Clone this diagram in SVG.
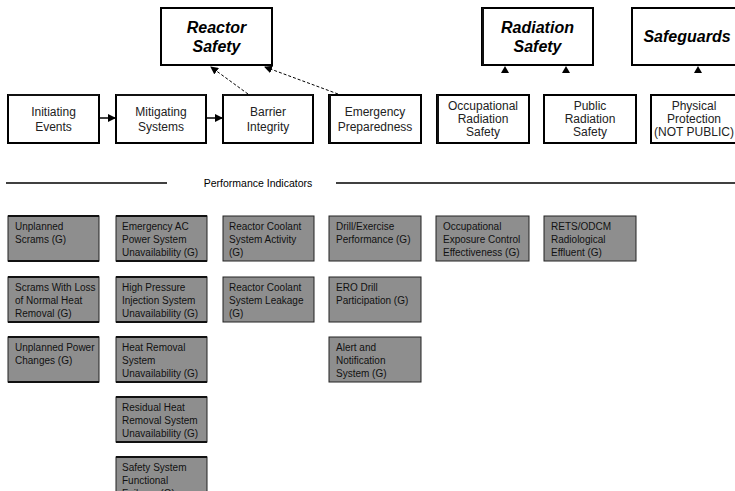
<svg xmlns="http://www.w3.org/2000/svg" width="735" height="491" viewBox="0 0 735 491">
<style>
.top{fill:#fff;stroke:#000;stroke-width:2}
.mid{fill:#fff;stroke:#000;stroke-width:2}
.pi{fill:#8e8e8e;stroke:#222;stroke-width:1}
.bar{stroke:#111;stroke-width:2}
.tt{font-family:"Liberation Sans",Arial,sans-serif;font-size:16px;font-weight:bold;font-style:italic;fill:#000;text-anchor:middle}
.mt{font-family:"Liberation Sans",Arial,sans-serif;font-size:12px;fill:#222;text-anchor:middle}
.pt{font-family:"Liberation Sans",Arial,sans-serif;font-size:10px;fill:#111}
.hd{font-family:"Liberation Sans",Arial,sans-serif;font-size:10.5px;fill:#000;text-anchor:middle}
.dot{stroke:#000;stroke-width:1;stroke-dasharray:3,2;fill:none}
.sol{stroke:#000;stroke-width:1.5;fill:none}
</style>
<defs>
<marker id="ah" markerWidth="8" markerHeight="8" refX="7" refY="4" orient="auto" markerUnits="userSpaceOnUse">
<path d="M0,0 L8,4 L0,8 Z" fill="#000"/>
</marker>
</defs>
<rect width="735" height="491" fill="#fff"/>

<g id="reactor-safety"><rect class="top" x="161" y="8" width="111" height="57"/><text class="tt" x="216.5" y="33">Reactor</text><text class="tt" x="216.5" y="52">Safety</text></g>
<g id="radiation-safety"><rect class="top" x="482" y="8" width="111" height="57"/><line x1="483" y1="8" x2="483" y2="65" class="bar"/><text class="tt" x="537.5" y="33">Radiation</text><text class="tt" x="537.5" y="52">Safety</text></g>
<g id="safeguards"><rect class="top" x="632" y="8" width="115" height="57"/><text class="tt" x="687" y="42">Safeguards</text></g>

<g id="initiating-events"><rect class="mid" x="8" y="95" width="91" height="48"/><line x1="8" y1="95" x2="99" y2="95" class="bar"/><text class="mt" x="53.5" y="116">Initiating</text><text class="mt" x="53.5" y="131">Events</text></g>
<g id="mitigating-systems"><rect class="mid" x="116" y="95" width="90" height="48"/><line x1="116" y1="95" x2="206" y2="95" class="bar"/><text class="mt" x="161" y="116">Mitigating</text><text class="mt" x="161" y="131">Systems</text></g>
<g id="barrier-integrity"><rect class="mid" x="223" y="95" width="90" height="48"/><line x1="223" y1="95" x2="313" y2="95" class="bar"/><text class="mt" x="268" y="116">Barrier</text><text class="mt" x="268" y="131">Integrity</text></g>
<g id="emergency-preparedness"><rect class="mid" x="329" y="95" width="92" height="48"/><line x1="330" y1="95" x2="330" y2="143" class="bar"/><text class="mt" x="375" y="116">Emergency</text><text class="mt" x="375" y="131">Preparedness</text></g>
<g id="occupational-radiation-safety"><rect class="mid" x="437" y="95" width="92" height="48"/><line x1="438" y1="95" x2="438" y2="143" class="bar"/><text class="mt" x="483" y="110">Occupational</text><text class="mt" x="483" y="123">Radiation</text><text class="mt" x="483" y="136">Safety</text></g>
<g id="public-radiation-safety"><rect class="mid" x="544" y="95" width="92" height="48"/><text class="mt" x="590" y="110">Public</text><text class="mt" x="590" y="123">Radiation</text><text class="mt" x="590" y="136">Safety</text></g>
<g id="physical-protection"><rect class="mid" x="651" y="95" width="92" height="48"/><text class="mt" x="694" y="110">Physical</text><text class="mt" x="694" y="123">Protection</text><text class="mt" x="694" y="136">(NOT PUBLIC)</text></g>

<g id="connectors">
<line class="sol" x1="99" y1="118" x2="115" y2="118" marker-end="url(#ah)"/>
<line class="sol" x1="206" y1="118" x2="222" y2="118" marker-end="url(#ah)"/>
<line class="dot" x1="248" y1="94" x2="211" y2="67" marker-end="url(#ah)"/>
<line class="dot" x1="338" y1="94" x2="265" y2="67" marker-end="url(#ah)"/>
<polygon points="505,66 501,73 509,73" fill="#000"/>
<polygon points="566,66 562,73 570,73" fill="#000"/>
<polygon points="698,66 694,73 702,73" fill="#000"/>
</g>

<g id="performance-indicators-header">
<line x1="6" y1="183" x2="167" y2="183" stroke="#000" stroke-width="1.5"/>
<line x1="336" y1="183" x2="735" y2="183" stroke="#000" stroke-width="1.5"/>
<text class="hd" x="258" y="187">Performance Indicators</text>
</g>

<g id="pi-unplanned-scrams"><rect class="pi" x="8" y="216" width="91" height="45"/><line x1="8" y1="216" x2="99" y2="216" class="bar"/><line x1="8" y1="261" x2="99" y2="261" class="bar"/><text class="pt" x="15" y="230">Unplanned</text><text class="pt" x="15" y="243">Scrams (G)</text></g>
<g id="pi-scrams-loss-heat"><rect class="pi" x="8" y="277" width="91" height="45"/><line x1="8" y1="277" x2="99" y2="277" class="bar"/><line x1="8" y1="322" x2="99" y2="322" class="bar"/><text class="pt" x="15" y="291">Scrams With Loss</text><text class="pt" x="15" y="304">of Normal Heat</text><text class="pt" x="15" y="317">Removal (G)</text></g>
<g id="pi-unplanned-power"><rect class="pi" x="8" y="337" width="91" height="45"/><line x1="8" y1="337" x2="99" y2="337" class="bar"/><line x1="8" y1="382" x2="99" y2="382" class="bar"/><text class="pt" x="15" y="351">Unplanned Power</text><text class="pt" x="15" y="364">Changes (G)</text></g>

<g id="pi-emergency-ac"><rect class="pi" x="116" y="216" width="91" height="45"/><line x1="116" y1="216" x2="207" y2="216" class="bar"/><line x1="116" y1="261" x2="207" y2="261" class="bar"/><text class="pt" x="122" y="230">Emergency AC</text><text class="pt" x="122" y="243">Power System</text><text class="pt" x="122" y="256">Unavailability (G)</text></g>
<g id="pi-hpi"><rect class="pi" x="116" y="277" width="91" height="45"/><line x1="116" y1="277" x2="207" y2="277" class="bar"/><line x1="116" y1="322" x2="207" y2="322" class="bar"/><text class="pt" x="122" y="291">High Pressure</text><text class="pt" x="122" y="304">Injection System</text><text class="pt" x="122" y="317">Unavailability (G)</text></g>
<g id="pi-heat-removal"><rect class="pi" x="116" y="337" width="91" height="45"/><line x1="116" y1="337" x2="207" y2="337" class="bar"/><line x1="116" y1="382" x2="207" y2="382" class="bar"/><text class="pt" x="122" y="351">Heat Removal</text><text class="pt" x="122" y="364">System</text><text class="pt" x="122" y="377">Unavailability (G)</text></g>
<g id="pi-rhr"><rect class="pi" x="116" y="397" width="91" height="45"/><line x1="116" y1="397" x2="207" y2="397" class="bar"/><line x1="116" y1="442" x2="207" y2="442" class="bar"/><text class="pt" x="122" y="411">Residual Heat</text><text class="pt" x="122" y="424">Removal System</text><text class="pt" x="122" y="437">Unavailability (G)</text></g>
<g id="pi-ssff"><rect class="pi" x="116" y="457" width="91" height="45"/><line x1="116" y1="457" x2="207" y2="457" class="bar"/><text class="pt" x="122" y="471">Safety System</text><text class="pt" x="122" y="484">Functional</text><text class="pt" x="122" y="497">Failures (G)</text></g>

<g id="pi-rcs-activity"><rect class="pi" x="223" y="216" width="91" height="45"/><text class="pt" x="229" y="230">Reactor Coolant</text><text class="pt" x="229" y="243">System Activity</text><text class="pt" x="229" y="256">(G)</text></g>
<g id="pi-rcs-leakage"><rect class="pi" x="223" y="277" width="91" height="45"/><text class="pt" x="229" y="291">Reactor Coolant</text><text class="pt" x="229" y="304">System Leakage</text><text class="pt" x="229" y="317">(G)</text></g>

<g id="pi-drill-exercise"><rect class="pi" x="329" y="216" width="92" height="45"/><text class="pt" x="336" y="230">Drill/Exercise</text><text class="pt" x="336" y="243">Performance (G)</text></g>
<g id="pi-ero-drill"><rect class="pi" x="329" y="277" width="92" height="45"/><text class="pt" x="336" y="291">ERO Drill</text><text class="pt" x="336" y="304">Participation (G)</text></g>
<g id="pi-alert-notification"><rect class="pi" x="329" y="337" width="92" height="45"/><text class="pt" x="336" y="351">Alert and</text><text class="pt" x="336" y="364">Notification</text><text class="pt" x="336" y="377">System (G)</text></g>

<g id="pi-occupational-exposure"><rect class="pi" x="436" y="216" width="93" height="45"/><text class="pt" x="443" y="230">Occupational</text><text class="pt" x="443" y="243">Exposure Control</text><text class="pt" x="443" y="256">Effectiveness (G)</text></g>
<g id="pi-rets-odcm"><rect class="pi" x="544" y="216" width="92" height="45"/><text class="pt" x="551" y="230">RETS/ODCM</text><text class="pt" x="551" y="243">Radiological</text><text class="pt" x="551" y="256">Effluent (G)</text></g>
</svg>
